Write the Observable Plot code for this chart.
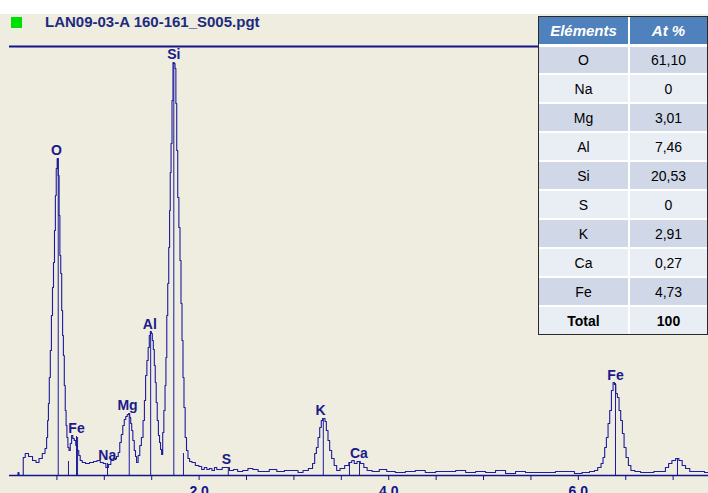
<!DOCTYPE html>
<html><head><meta charset="utf-8">
<script src="https://cdn.jsdelivr.net/npm/d3@7"></script>
<script src="https://cdn.jsdelivr.net/npm/@observablehq/plot@0.6"></script>
<style>
body{margin:0;background:#fff;}
#wrap{position:relative;width:708px;height:493px;overflow:hidden;background:#fff;font-family:"Liberation Sans",Arial,sans-serif;}
#panel{position:absolute;left:0;top:14px;width:708px;height:479px;background:#efece0;}
#chart{position:absolute;left:0;top:0;}
#sq{position:absolute;left:11px;top:17px;width:11px;height:11px;background:#00e000;}
#title{position:absolute;left:45px;top:13px;font:bold 15px "Liberation Sans",Arial,sans-serif;color:#1c2b7d;line-height:18px;white-space:nowrap;}
#tbl{position:absolute;left:538px;top:16px;width:170px;height:319px;box-sizing:border-box;border:1px solid #2a2a2a;background:#fff;}
.cell{position:absolute;display:flex;align-items:center;justify-content:center;font-size:14px;color:#000;}
.hdr{background:#4f81bd;color:#fff;font-weight:bold;font-style:italic;font-size:15px;}
</style></head>
<body>
<div id="wrap">
  <div id="panel"></div>
  <div id="chart"></div>
  <div id="sq"></div>
  <div id="title"></div>
  <div id="tbl"></div>
</div>
<script>
const titleText = "LAN09-03-A 160-161_S005.pgt";

// spectrum (energy in keV, counts in arbitrary units)
const energy = [0.084,0.095,0.105,0.137,0.153,0.179,0.222,0.264,0.295,0.327,
0.364,0.385,0.398,0.406,0.415,0.425,0.436,0.448,0.459,0.469,
0.480,0.488,0.498,0.508,0.519,0.527,0.536,0.545,0.556,0.564,
0.573,0.583,0.593,0.601,0.610,0.622,0.633,0.649,0.661,0.675,
0.691,0.707,0.723,0.738,0.754,0.781,0.823,0.865,0.907,0.939,
0.976,1.002,1.031,1.055,1.083,1.118,1.139,1.155,1.171,1.187,
1.203,1.218,1.234,1.250,1.263,1.273,1.284,1.294,1.308,1.324,
1.334,1.347,1.366,1.382,1.400,1.417,1.429,1.442,1.456,1.469,
1.480,1.491,1.501,1.512,1.522,1.533,1.542,1.553,1.564,1.577,
1.588,1.598,1.611,1.621,1.635,1.646,1.654,1.664,1.674,1.685,
1.692,1.699,1.709,1.719,1.730,1.741,1.751,1.759,1.769,1.780,
1.793,1.804,1.814,1.825,1.835,1.846,1.860,1.874,1.891,1.909,
1.941,1.980,2.015,2.040,2.068,2.095,2.120,2.150,2.173,2.200,2.226,2.260,2.300,2.340,2.384,2.430,2.489,2.540,2.595,2.650,2.700,2.780,2.859,2.940,3.017,3.070,3.122,3.183,3.210,3.228,3.246,3.263,
3.281,3.296,3.309,3.323,3.333,3.351,3.368,3.386,3.410,3.439,
3.463,3.509,3.562,3.597,3.623,3.650,3.681,3.720,3.755,3.790,
3.861,3.940,4.019,4.120,4.230,4.330,4.441,4.550,4.652,4.760,4.863,4.970,5.074,5.180,5.285,5.390,5.496,5.600,5.707,5.810,
5.918,6.000,6.076,6.160,6.181,6.227,6.252,6.269,6.287,6.305,6.322,
6.340,6.358,6.375,6.387,6.403,6.421,6.438,6.456,6.474,6.491,
6.516,6.540,6.569,6.624,6.690,6.762,6.830,6.899,6.938,6.966,7.008,7.044,
7.078,7.113,7.149,7.202,7.289,7.373];
const counts = [0,3,0,0,18,22,19,15,13,17,
22,27,38,55,72,98,125,160,188,213,
245,280,307,317,300,260,220,202,165,140,
120,90,65,50,38,28,25,32,40,37,
35,30,25,20,15,13,12,13,14,15,
13,12,8,11,15,17,19,23,33,41,
50,56,59,61,62,58,52,45,35,25,
19,13,20,30,38,55,75,100,115,128,
140,144,142,135,126,110,93,73,55,40,
33,26,21,43,65,90,118,160,192,228,
265,303,332,375,413,412,407,372,325,278,
248,215,172,135,98,68,38,25,17,14,
13,10,9,6,8,6,7,5,8,6,6,8,8,5,6,4,5,7,6,4,4,6,4,5,5,3,5,7,12,22,28,38,
48,55,57,57,54,45,35,25,17,10,
5,7,10,13,15,12,14,12,8,5,
4,6,4,3,4,5,3,4,4,5,3,4,3,5,2,4,3,3,3,4,
4,2,3,4,5,8,12,18,28,38,52,
65,85,93,91,82,78,65,55,42,28,
18,10,5,4,3,3,4,4,8,12,15,17,
15,10,7,4,4,3];

// element line markers
const markerEnergy = [0.514,0.622,0.707,0.718,1.034,1.263,1.489,1.733,1.835,2.308,3.310,3.586,3.692,6.392,7.046];
const markerHeight = [317,14,39,38,12,62,143,413,22,8,57,13,14,92,17];

// peak labels
const labelText   = ["O","Fe","Na","Mg","Al","Si","S","K","Ca","Fe"];
const labelEnergy = [0.496,0.707,1.031,1.245,1.480,1.733,2.289,3.281,3.685,6.392];
const labelHeight = [317,39,12,62,143,413,8,57,14,92];

// axis
const tickValues = [0.5,1,1.5,2,2.5,3,3.5,4,4.5,5,5.5,6,6.5,7];
const tickLabelValues = [2,4,6];
const tickLabelText = ["2.0","4.0","6.0"];

// composition table
const elements  = ["O","Na","Mg","Al","Si","S","K","Ca","Fe","Total"];
const atPercent = ["61,10","0","3,01","7,46","20,53","0","2,91","0,27","4,73","100"];

document.getElementById("title").textContent = titleText;

const spectrum = energy.map((e,i)=>({e, c: counts[i]}));
const markers = markerEnergy.map((e,i)=>({e, h: markerHeight[i]}));
const labels = labelText.map((t,i)=>({t, e: labelEnergy[i], h: labelHeight[i]}));
const navy = "#14148c";
const lineColor = "#1c1c9c";
const font = "Liberation Sans, Arial, sans-serif";

const chart = Plot.plot({
  width: 708, height: 500,
  marginLeft: 9, marginRight: 0, marginTop: 46, marginBottom: 25,
  x: {domain: [0, 7.373], axis: null, label: null},
  y: {domain: [0, 429], axis: null, label: null},
  style: {background: "transparent", overflow: "visible"},
  marks: [
    Plot.ruleX(markers, {x: "e", y1: 0, y2: "h", stroke: lineColor, strokeWidth: 1}),
    Plot.line(spectrum, {x: "e", y: "c", curve: "step", stroke: lineColor, strokeWidth: 1.1}),
    Plot.ruleY([429], {stroke: navy, strokeWidth: 2}),
    Plot.ruleY([0], {stroke: navy, strokeWidth: 1.5}),
    Plot.axisX({ticks: tickValues, anchor: "bottom", tickSize: 5, label: null,
      tickFormat: () => "", color: navy}),
    Plot.axisX({ticks: tickLabelValues, anchor: "bottom", tickSize: 0, tickPadding: 11, label: null,
      tickFormat: d => tickLabelText[tickLabelValues.indexOf(d)],
      color: navy, fontSize: 14, fontWeight: "bold", fontFamily: font}),
    Plot.text(labels, {x: "e", y: "h", text: "t", dy: -8, lineAnchor: "middle",
      fill: "#1a1a8a", fontSize: 14, fontWeight: "bold", fontFamily: font})
  ]
});
document.getElementById("chart").appendChild(chart);

// table
const tbl = document.getElementById("tbl");
const col1 = 89, colGap = 2, innerW = 168, hdrH = 27, rowH = 29, sep = 2;
function cell(x, y, w, h, text, cls, bg, bold){
  const d = document.createElement("div");
  d.className = "cell" + (cls ? " " + cls : "");
  d.style.left = x + "px"; d.style.top = y + "px";
  d.style.width = w + "px"; d.style.height = h + "px";
  if (bg) d.style.background = bg;
  if (bold) d.style.fontWeight = "bold";
  d.textContent = text;
  tbl.appendChild(d);
}
cell(0, 0, col1, hdrH, "Eléments", "hdr");
cell(col1 + colGap, 0, innerW - col1 - colGap, hdrH, "At %", "hdr");
elements.forEach((el, i) => {
  const y = hdrH + rowH * i + sep + (i === 0 ? 1 : 0);
  const h = rowH - sep - (i === 0 ? 1 : 0);
  const bg = i % 2 === 0 ? "#d0d8e8" : "#e9edf4";
  const bold = i === elements.length - 1;
  cell(0, y, col1, h, el, "", bg, bold);
  cell(col1 + colGap, y, innerW - col1 - colGap, h, atPercent[i], "", bg, bold);
});
</script>
</body></html>
